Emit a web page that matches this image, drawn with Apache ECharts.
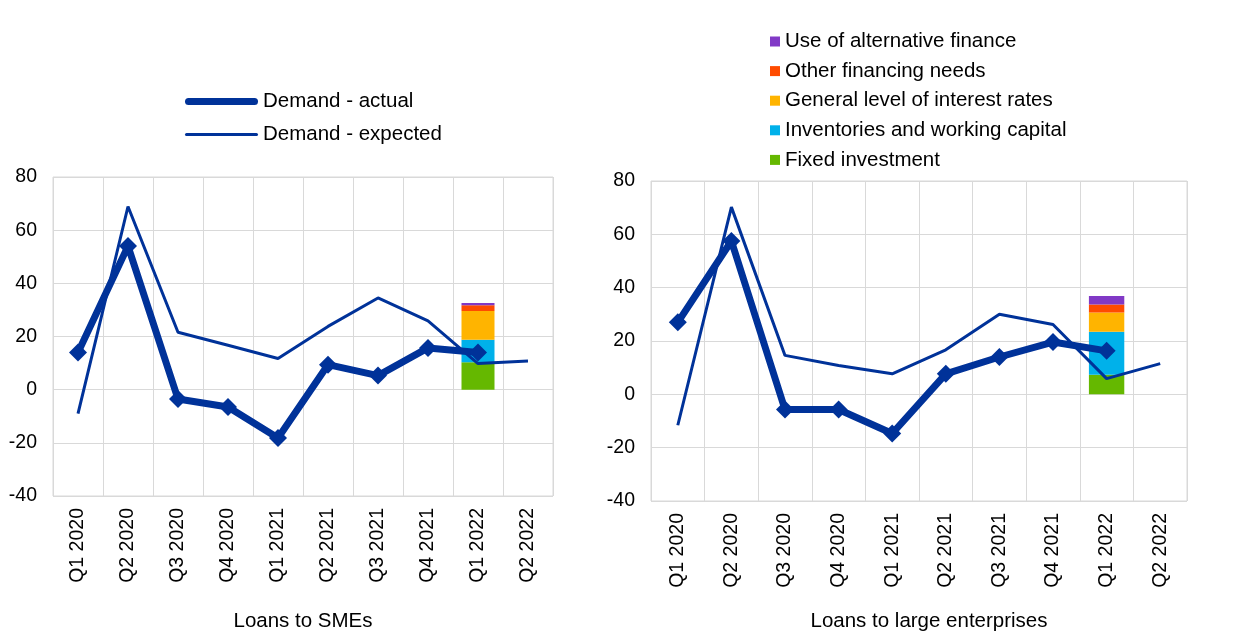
<!DOCTYPE html>
<html>
<head>
<meta charset="utf-8">
<script src="https://cdn.jsdelivr.net/npm/echarts@6/dist/echarts.min.js"></script>
<style>
html,body{margin:0;padding:0;background:#fff;}
#chart{width:1240px;height:640px;}
</style>
</head>
<body>
<div id="chart"></div>
<script>
// ---- data ----
const categories = ['Q1 2020','Q2 2020','Q3 2020','Q4 2020','Q1 2021','Q2 2021','Q3 2021','Q4 2021','Q1 2022','Q2 2022'];
const yTicks = { min: -40, max: 80, interval: 20 };

const smeActual   = [14, 54, -3.5, -6.5, -18.2, 9.4, 5.3, 15.7, 14.0, null];
const smeExpected = [-9.0, 68.9, 21.6, 16.7, 11.7, 23.8, 34.5, 25.9, 9.8, 10.8];

const largeActual   = [27, 57.5, -5.7, -5.7, -14.7, 7.7, 14, 19.6, 16.3, null];
const largeExpected = [-11.6, 70.2, 14.6, 10.8, 7.7, 16.7, 30, 26.2, 5.9, 11.5];

const driverQuarter = 'Q1 2022';
const driverNames = ['Fixed investment','Inventories and working capital','General level of interest rates','Other financing needs','Use of alternative finance'];
const smeDrivers   = [10.3, 8.5, 10.8, 2.2, 0.8];
const largeDrivers = [7.3, 16.2, 7.2, 3.0, 3.2];

const actualName = 'Demand - actual';
const expectedName = 'Demand - expected';
const chartTitles = ['Loans to SMEs', 'Loans to large enterprises'];

// ---- styling ----
const NAVY = '#003299';
const driverColors = ['#65B800', '#00B1EA', '#FFB400', '#FF4B00', '#8139C6'];
const FONT = 'Liberation Sans, Arial, sans-serif';
const FS = 19.5;
const FS_TXT = 20.5;
const GRIDC = '#d9d9d9';

const chart = echarts.init(document.getElementById('chart'));

function xAxisFor(gi) {
  return {
    type: 'category', gridIndex: gi, data: categories, boundaryGap: true,
    axisLine: { show: false }, axisTick: { show: false },
    splitLine: { show: true, lineStyle: { color: GRIDC, width: 1 } },
    axisLabel: { rotate: 90, margin: 12, color: '#000', fontFamily: FONT, fontSize: FS, interval: 0 }
  };
}
function yAxisFor(gi) {
  return {
    type: 'value', gridIndex: gi, min: yTicks.min, max: yTicks.max, interval: yTicks.interval,
    axisLine: { show: false }, axisTick: { show: false },
    splitLine: { show: true, lineStyle: { color: GRIDC, width: 1 } },
    axisLabel: { margin: 16, color: '#000', fontFamily: FONT, fontSize: FS }
  };
}

function barSeries(gi, values) {
  return values.map((v, i) => ({
    name: driverNames[i], type: 'bar', xAxisIndex: gi, yAxisIndex: gi,
    stack: 'drivers' + gi, barWidth: '66%', z: 1,
    itemStyle: { color: driverColors[i] },
    data: categories.map(c => c === driverQuarter ? v : '-')
  }));
}
function lineSeries(gi, actual, expected) {
  return [
    { name: expectedName, type: 'line', xAxisIndex: gi, yAxisIndex: gi, z: 3,
      data: expected, symbol: 'none', lineStyle: { color: NAVY, width: 3 },
      itemStyle: { color: NAVY } },
    { name: actualName, type: 'line', xAxisIndex: gi, yAxisIndex: gi, z: 4,
      data: actual, symbol: 'diamond', symbolSize: 18, lineStyle: { color: NAVY, width: 7 },
      itemStyle: { color: NAVY } }
  ];
}

const actualIcon = 'path://M3.5,0 L69.5,0 A3.5,3.5 0 0 1 69.5,7 L3.5,7 A3.5,3.5 0 0 1 3.5,0 Z';
const expectedIcon = 'path://M1.5,0 L71.5,0 A1.5,1.5 0 0 1 71.5,3 L1.5,3 A1.5,1.5 0 0 1 1.5,0 Z';

const option = {
  animation: false,
  backgroundColor: '#fff',
  textStyle: { fontFamily: FONT },
  grid: [
    { left: 53, top: 177, width: 500, height: 319, show: true, borderColor: GRIDC, borderWidth: 1 },
    { left: 651, top: 181, width: 536, height: 320, show: true, borderColor: GRIDC, borderWidth: 1 }
  ],
  xAxis: [xAxisFor(0), xAxisFor(1)],
  yAxis: [yAxisFor(0), yAxisFor(1)],
  title: [
    { text: chartTitles[0], left: 303, top: 611, textAlign: 'center', padding: 0,
      textStyle: { fontFamily: FONT, fontSize: FS_TXT, fontWeight: 'normal', color: '#000' } },
    { text: chartTitles[1], left: 929, top: 611, textAlign: 'center', padding: 0,
      textStyle: { fontFamily: FONT, fontSize: FS_TXT, fontWeight: 'normal', color: '#000' } }
  ],
  legend: [
    { orient: 'vertical', left: 185, top: 91, padding: 0, itemWidth: 73, itemHeight: 14, itemGap: 12,
      data: [
        { name: actualName, icon: actualIcon },
        { name: expectedName, icon: expectedIcon }
      ],
      textStyle: { fontFamily: FONT, fontSize: FS_TXT, color: '#000', lineHeight: 20 } },
    { orient: 'vertical', left: 770, top: 31, padding: 0, itemWidth: 10, itemHeight: 10, itemGap: 8.6, icon: 'rect',
      data: driverNames.slice().reverse(),
      textStyle: { fontFamily: FONT, fontSize: FS_TXT, color: '#000', lineHeight: 20 } }
  ],
  series: [].concat(
    barSeries(0, smeDrivers), barSeries(1, largeDrivers),
    lineSeries(0, smeActual, smeExpected), lineSeries(1, largeActual, largeExpected)
  )
};
chart.setOption(option);
</script>
</body>
</html>
